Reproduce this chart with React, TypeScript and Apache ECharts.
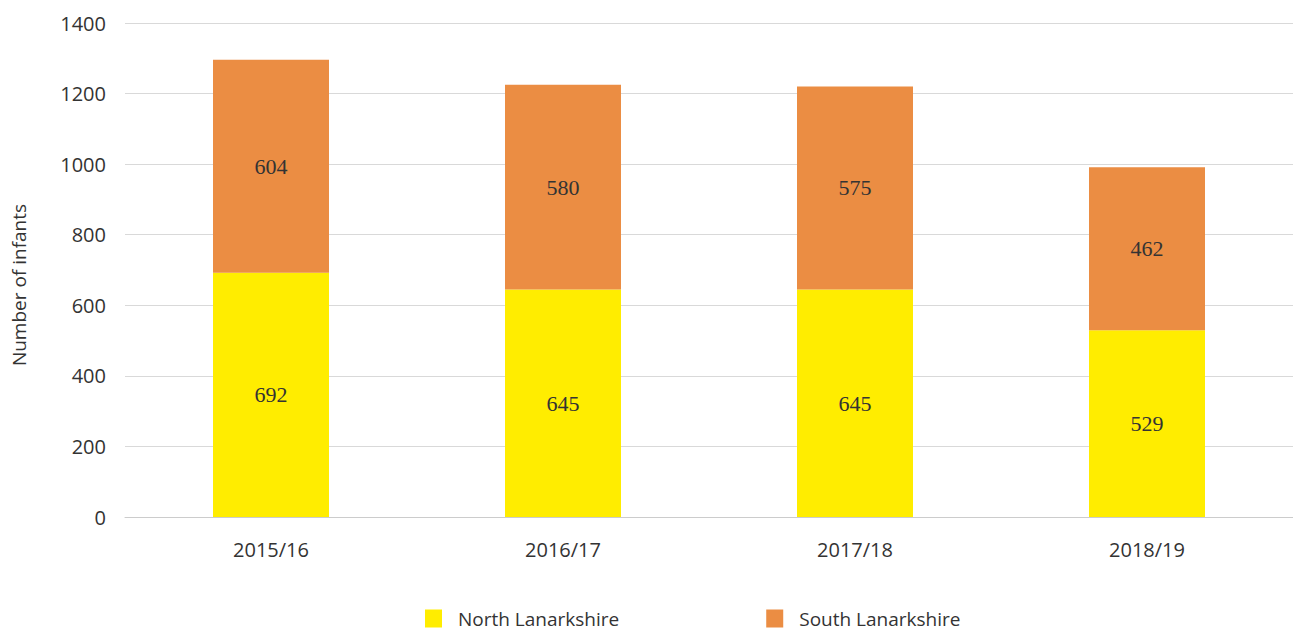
import React, { useEffect, useRef } from "react";
import * as echarts from "echarts";

const categories = ["2015/16", "2016/17", "2017/18", "2018/19"];
const northValues = [692, 645, 645, 529];
const southValues = [604, 580, 575, 462];
const seriesNames = ["North Lanarkshire", "South Lanarkshire"];
const yTicks = { min: 0, max: 1400, interval: 200 };
const yAxisTitle = "Number of infants";

const SANS = "'Open Sans', Lato, sans-serif";
const SERIF = "'Liberation Serif', 'DejaVu Serif', serif";

export default function App() {
  const ref = useRef<HTMLDivElement>(null);
  useEffect(() => {
    if (!ref.current) return;
    const chart = echarts.init(ref.current, null, { renderer: "svg" });
    const label = {
      show: true,
      position: "inside" as const,
      color: "#333333",
      fontFamily: SERIF,
      fontSize: 22,
    };
    chart.setOption({
      animation: false,
      grid: { left: 125, right: 0, top: 23, bottom: 113, containLabel: false },
      legend: {
        left: 425,
        top: 609,
        padding: 0,
        itemWidth: 17,
        itemHeight: 18,
        itemGap: 147,
        icon: "rect",
        textStyle: {
          fontFamily: SANS,
          fontSize: 19,
          lineHeight: 19,
          color: "#333333",
          padding: [0, 0, 0, 11],
        },
        data: seriesNames,
      },
      xAxis: {
        type: "category",
        data: categories,
        axisLine: { lineStyle: { color: "#cccccc", width: 1 } },
        axisTick: { show: false },
        axisLabel: { fontFamily: SANS, fontSize: 20, color: "#333333", margin: 22 },
      },
      yAxis: {
        type: "value",
        min: yTicks.min,
        max: yTicks.max,
        interval: yTicks.interval,
        name: yAxisTitle,
        nameLocation: "middle",
        nameGap: 97,
        nameTextStyle: {
          fontFamily: SANS,
          fontSize: 19,
          color: "#333333",
          padding: [0, 30, 0, 0],
        },
        axisLine: { show: false },
        axisTick: { show: false },
        axisLabel: {
          fontFamily: SANS,
          fontSize: 20,
          color: "#333333",
          margin: 19,
          formatter: (v: number) => String(v),
        },
        splitLine: { lineStyle: { color: "#d9d9d9", width: 1 } },
      },
      series: [
        {
          name: seriesNames[0],
          type: "bar",
          stack: "total",
          barWidth: 116,
          data: northValues,
          itemStyle: { color: "#FFED00" },
          label,
        },
        {
          name: seriesNames[1],
          type: "bar",
          stack: "total",
          barWidth: 116,
          data: southValues,
          itemStyle: { color: "#EB8D43" },
          label,
        },
      ],
    });
    return () => chart.dispose();
  }, []);
  return (
    <div
      ref={ref}
      style={{ position: "fixed", left: 0, top: 0, width: 1293, height: 630, background: "#ffffff" }}
    />
  );
}
